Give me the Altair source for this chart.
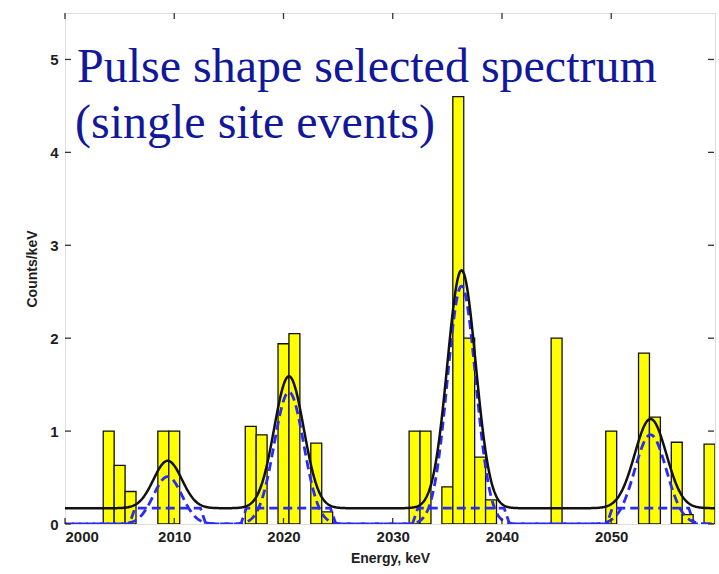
import altair as alt
import numpy as np
import pandas as pd

# Energy histogram, 1 keV bins: bin centre (keV) and counts/keV
bin_energy = [2004, 2005, 2006, 2009, 2010, 2017, 2018, 2020, 2021, 2023, 2024,
              2032, 2033, 2035, 2036, 2037, 2038, 2039, 2045, 2050, 2053, 2054,
              2056, 2057, 2059]
bin_counts = [1.0, 0.63, 0.35, 1.0, 1.0, 1.05, 0.96, 1.94, 2.05, 0.87, 0.13,
              1.0, 1.0, 0.40, 4.6, 2.0, 0.72, 0.26, 2.0, 1.0, 1.84, 1.15,
              0.88, 0.10, 0.86]

# Fit model: flat background plus one Gaussian per line
background = 0.17
peak_centre = [2009.4, 2020.5, 2036.3, 2053.6]
peak_amplitude = [0.51, 1.42, 2.56, 0.96]
peak_sigma = [1.3, 1.35, 1.3, 1.45]
window_lo = [2006.4, 2016.6, 2032.3, 2050.1]
window_hi = [2012.4, 2024.3, 2040.2, 2057.1]

x_ticks = [2000, 2010, 2020, 2030, 2040, 2050]
y_ticks = [0, 1, 2, 3, 4, 5]
x_range = [2000, 2059.5]
y_range = [0, 5.5]

caption_lines = ["Pulse shape selected spectrum", "(single site events)"]

W, H = 650, 511

bars = pd.DataFrame({
    "lo": [e - 0.5 for e in bin_energy],
    "hi": [e + 0.5 for e in bin_energy],
    "counts": bin_counts,
})

# evaluate the fitted components on a fine energy grid
e = np.arange(x_range[0], x_range[1] + 1e-9, 0.05)
lines = np.zeros_like(e)
for c, a, s in zip(peak_centre, peak_amplitude, peak_sigma):
    lines += a * np.exp(-0.5 * ((e - c) / s) ** 2)
step = np.zeros_like(e)
ramp = 0.5
for lo, hi in zip(window_lo, window_hi):
    up = np.clip((e - (lo - ramp)) / ramp, 0, 1)
    down = np.clip(((hi + ramp) - e) / ramp, 0, 1)
    step = np.maximum(step, np.minimum(up, down))
curves = pd.DataFrame({
    "energy": e,
    "total": background + lines,
    "lines": lines,
    "bg": background * step,
})

xs = alt.Scale(domain=x_range, nice=False, zero=False)
ys = alt.Scale(domain=y_range, nice=False)

label_font = "Liberation Sans"
ink = "#1e1e1e"

x_axis = alt.Axis(values=x_ticks, format="d", tickSize=0, domain=False, grid=False,
                  labelFont=label_font, labelFontWeight="bold", labelFontSize=15,
                  labelColor=ink, labelPadding=5,
                  title="Energy, keV", titleFont=label_font, titleFontWeight="bold",
                  titleFontSize=14, titleColor=ink, titlePadding=7)
y_axis = alt.Axis(values=y_ticks, format="d", tickSize=0, domain=False, grid=False,
                  labelFont=label_font, labelFontWeight="bold", labelFontSize=15,
                  labelColor=ink, labelPadding=7,
                  title="Counts/keV", titleFont=label_font, titleFontWeight="bold",
                  titleFontSize=14, titleColor=ink, titlePadding=10)

hist = alt.Chart(bars).mark_bar(
    color="#ffff00", stroke="#111111", strokeWidth=1.3, clip=True
).encode(
    x=alt.X("lo:Q", scale=xs, axis=x_axis),
    x2="hi:Q",
    y=alt.Y("counts:Q", scale=ys, axis=y_axis),
    y2=alt.datum(0),
)

base = alt.Chart(curves)
bg_line = base.mark_line(color="#2a2af5", strokeWidth=2.8, strokeDash=[9, 5],
                         clip=True).encode(
    x=alt.X("energy:Q", scale=xs), y=alt.Y("bg:Q", scale=ys))
peak_lines = base.mark_line(color="#2a2af5", strokeWidth=2.8, strokeDash=[9, 5],
                            strokeDashOffset=7, clip=True).encode(
    x=alt.X("energy:Q", scale=xs), y=alt.Y("lines:Q", scale=ys))
fit_line = base.mark_line(color="#111111", strokeWidth=2.5, clip=True).encode(
    x=alt.X("energy:Q", scale=xs), y=alt.Y("total:Q", scale=ys))

# inward tick marks on all four sides
xt = pd.DataFrame({"v": x_ticks})
yt = pd.DataFrame({"v": y_ticks})
tick_style = dict(color="#333333", strokeWidth=1.3)
xt_bottom = alt.Chart(xt).mark_rule(**tick_style).encode(
    x=alt.X("v:Q", scale=xs), y=alt.value(H), y2=alt.value(H - 6))
xt_top = alt.Chart(xt).mark_rule(**tick_style).encode(
    x=alt.X("v:Q", scale=xs), y=alt.value(0), y2=alt.value(6))
yt_left = alt.Chart(yt).mark_rule(**tick_style).encode(
    y=alt.Y("v:Q", scale=ys), x=alt.value(0), x2=alt.value(6))
yt_right = alt.Chart(yt).mark_rule(**tick_style).encode(
    y=alt.Y("v:Q", scale=ys), x=alt.value(W - 1), x2=alt.value(W - 7))

# two-line caption in the upper left of the plot
caption_style = dict(align="left", baseline="alphabetic", font="Liberation Serif",
                     fontSize=48, color="#12189a")
caption_top = alt.Chart(pd.DataFrame({"text": caption_lines[:1]})).mark_text(
    **caption_style).encode(x=alt.value(12), y=alt.value(69), text="text:N")
caption_bottom = alt.Chart(pd.DataFrame({"text": caption_lines[1:]})).mark_text(
    **caption_style).encode(x=alt.value(10), y=alt.value(125), text="text:N")

chart = alt.layer(
    hist, bg_line, peak_lines, fit_line,
    xt_bottom, xt_top, yt_left, yt_right, caption_top, caption_bottom
).properties(
    width=W, height=H,
    autosize=alt.AutoSizeParams(type="none"),
    padding={"left": 65, "top": 13, "right": 4, "bottom": 50},
).configure_view(
    stroke="#333333", strokeWidth=1.5
).configure(background="white")

chart.save("out.html", embed_options={"renderer": "svg", "actions": False})
